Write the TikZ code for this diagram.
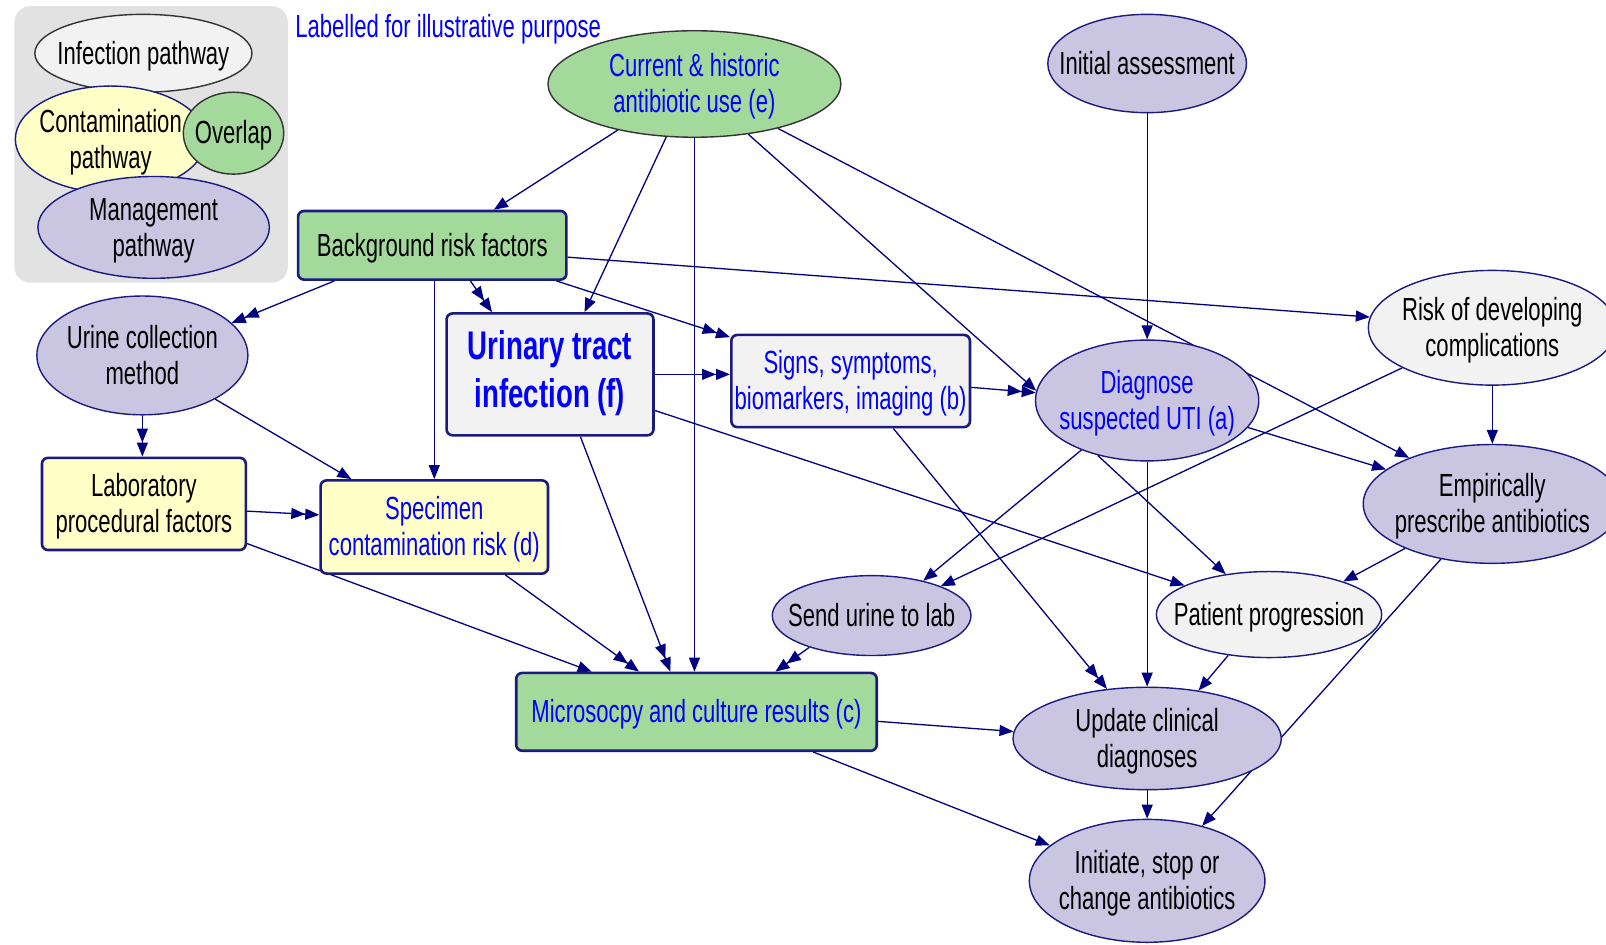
\documentclass[tikz,border=0pt]{standalone}
\usepackage{fontspec}
\setmainfont{Liberation Sans}[FakeStretch=0.69]
\usetikzlibrary{shapes.geometric,arrows.meta,calc}
\pgfdeclarelayer{background}
\pgfsetlayers{background,main}

\definecolor{navyline}{HTML}{1A1A80}
\definecolor{edgecol}{HTML}{000080}
\definecolor{fillgreen}{HTML}{A4D99C}
\definecolor{fillyellow}{HTML}{FFFFC8}
\definecolor{filllav}{HTML}{CAC6E2}
\definecolor{fillgray}{HTML}{F2F2F2}
\definecolor{legendbg}{HTML}{E2E2E2}
\definecolor{textblue}{HTML}{0000FF}
\newcommand\pxu{0.51212pt}
% centred label of zero width, so that the shape keeps its given size;
% the text is set a little lower while the box keeps its natural extents
\newcommand\ctext[2][-1.8pt]{\raisebox{#1}[\height][\depth]{\makebox[0pt]{\begin{tabular}{@{}c@{}}#2\end{tabular}}}}

\tikzset{
  ell/.style 2 args={ellipse, minimum width=#1*\pxu, minimum height=#2*\pxu,
    inner sep=0pt, draw=navyline, line width=0.7pt},
  box/.style 2 args={rectangle, rounded corners=3pt, minimum width=#1*\pxu,
    minimum height=#2*\pxu, inner sep=0pt, draw=navyline, line width=1.3pt},
  conn/.style={draw=edgecol, line width=0.65pt, -{Triangle[length=7pt,width=5.5pt]}},
  conndbl/.style={draw=edgecol, line width=0.65pt,
    -{Triangle[length=7pt,width=5.5pt,sep=0pt]Triangle[length=7pt,width=5.5pt]}},
}

\begin{document}
\begin{tikzpicture}[x=0.51212pt, y=-0.51212pt,
  every node/.style={font=\fontsize{16}{18}\selectfont}]
\useasboundingbox (0,0) rectangle (1568,922);

% legend
\node[ell={212}{76}, fill=fillgray, draw=black!80] (inf) at (140,52) {\ctext{Infection pathway}};
\node[ell={186}{104}, fill=fillyellow] (cont) at (108,136) {\ctext{Contamination\\pathway}};
\node[ell={98}{80}, fill=fillgreen, draw=black!80] (ovl) at (228,130) {\ctext{Overlap}};
\node[ell={226}{90}, fill=filllav] (mgmt) at (150,222) {\ctext{Management\\pathway}};
\node[anchor=west, text=textblue, inner sep=0pt] (lbl) at (288,29) {Labelled for illustrative purpose};

% main graph
\node[ell={286}{104}, fill=fillgreen, draw=black!80, text=textblue] (cur) at (678,82) {\ctext{Current \& historic\\antibiotic use (e)}};
\node[ell={194}{96}, fill=filllav] (init) at (1120,62) {\ctext{Initial assessment}};
\node[box={262}{67}, fill=fillgreen] (bg) at (422,239.5) {\ctext{Background risk factors}};
\node[box={202}{119}, fill=fillgray, text=textblue, font=\fontsize{20}{24}\selectfont\bfseries] (uti) at (537,365.5) {\ctext[0pt]{Urinary tract\\infection (f)}};
\node[box={233}{90}, fill=fillgray, text=textblue] (sig) at (830.5,372) {\ctext{Signs, symptoms,\\biomarkers, imaging (b)}};
\node[ell={218}{118}, fill=filllav, text=textblue] (diag) at (1120,391) {\ctext{Diagnose\\suspected UTI (a)}};
\node[ell={242}{112}, fill=fillgray] (risk) at (1457,320) {\ctext{Risk of developing\\complications}};
\node[ell={252}{116}, fill=filllav] (emp) at (1457,492) {\ctext{Empirically\\prescribe antibiotics}};
\node[ell={206}{116}, fill=filllav] (ucm) at (139,347) {\ctext{Urine collection\\method}};
\node[box={199}{90}, fill=fillyellow] (lab) at (140.5,492) {\ctext{Laboratory\\procedural factors}};
\node[box={222}{91}, fill=fillyellow, text=textblue] (spec) at (424,514.5) {\ctext{Specimen\\contamination risk (d)}};
\node[ell={194}{78}, fill=filllav] (send) at (851,601) {\ctext{Send urine to lab}};
\node[ell={220}{84}, fill=fillgray] (pat) at (1239,600) {\ctext{Patient progression}};
\node[box={352}{76}, fill=fillgreen, text=textblue] (mic) at (680,695) {\ctext{Microsocpy and culture results (c)}};
\node[ell={262}{100}, fill=filllav] (upd) at (1120,721) {\ctext{Update clinical\\diagnoses}};
\node[ell={230}{120}, fill=filllav] (ini) at (1120,860) {\ctext{Initiate, stop or\\change antibiotics}};

\begin{pgfonlayer}{background}
\fill[legendbg, rounded corners=8pt] (14,6) rectangle (281,276);

% from current & historic antibiotic use
\draw[conn] (cur.211.6) -- (bg.30.2);
\draw[conn] (cur.242.5) -- (uti.61.4);
\draw[conn] (cur.south) -- (cur.south |- mic.north);
\draw[conn] (cur.-43.8) -- (diag.175.8);
\draw[conn] (cur.-28.6) -- (emp.151.2);
% initial assessment
\draw[conn] (init.south) -- (diag.north);
% background risk factors
\draw[conndbl] (bg.200) -- (ucm.20.3);
\draw[conndbl] (bg.-43) -- (uti.133.3);
\draw[conn] (spec.north |- bg.south) -- (spec.north);
\draw[conndbl] (bg.-16.5) -- (sig.160.5);
\draw[conn] (bg.-5) -- (risk.175.7);
% urinary tract infection
\draw[conndbl] (uti.east) -- (uti.east -| sig.west);
\draw[conndbl] (uti.-64.8) -- (mic.123.3);
\draw[conn] (uti.-19.9) -- (pat.161.1);
% signs, symptoms
\draw[conndbl] (sig.-3.9) -- (diag.176.8);
\draw[conndbl] (sig.-48.7) -- (upd.129.8);
% diagnose
\draw[conn] (diag.217.9) -- (send.34.8);
\draw[conn] (diag.228.4) -- (pat.137.1);
\draw[conn] (diag.south) -- (upd.north);
\draw[conn] (diag.-15.4) -- (emp.162);
% risk of complications
\draw[conn] (risk.204.7) -- (send.23.4);
\draw[conn] (risk.south) -- (emp.north);
% empirically prescribe
\draw[conn] (emp.207.4) -- (pat.24.9);
\draw[conn] (emp.227.7) -- (ini.45.5);
% urine collection and lab
\draw[conndbl] (ucm.south) -- (ucm.south |- lab.north);
\draw[conn] (ucm.-31.6) -- (spec.150);
\draw[conndbl] (lab.-4.6) -- (spec.174.6);
\draw[conn] (lab.-21.9) -- (mic.159.2);
\draw[conndbl] (spec.-34.6) -- (mic.145.4);
\draw[conndbl] (send.207.7) -- (mic.27.8);
% results and decisions
\draw[conn] (mic.-3.9) -- (upd.177.8);
\draw[conn] (mic.-19.9) -- (ini.160.8);
\draw[conn] (pat.225.7) -- (upd.43.8);
\draw[conn] (upd.south) -- (ini.north);
\end{pgfonlayer}
\end{tikzpicture}
\end{document}
